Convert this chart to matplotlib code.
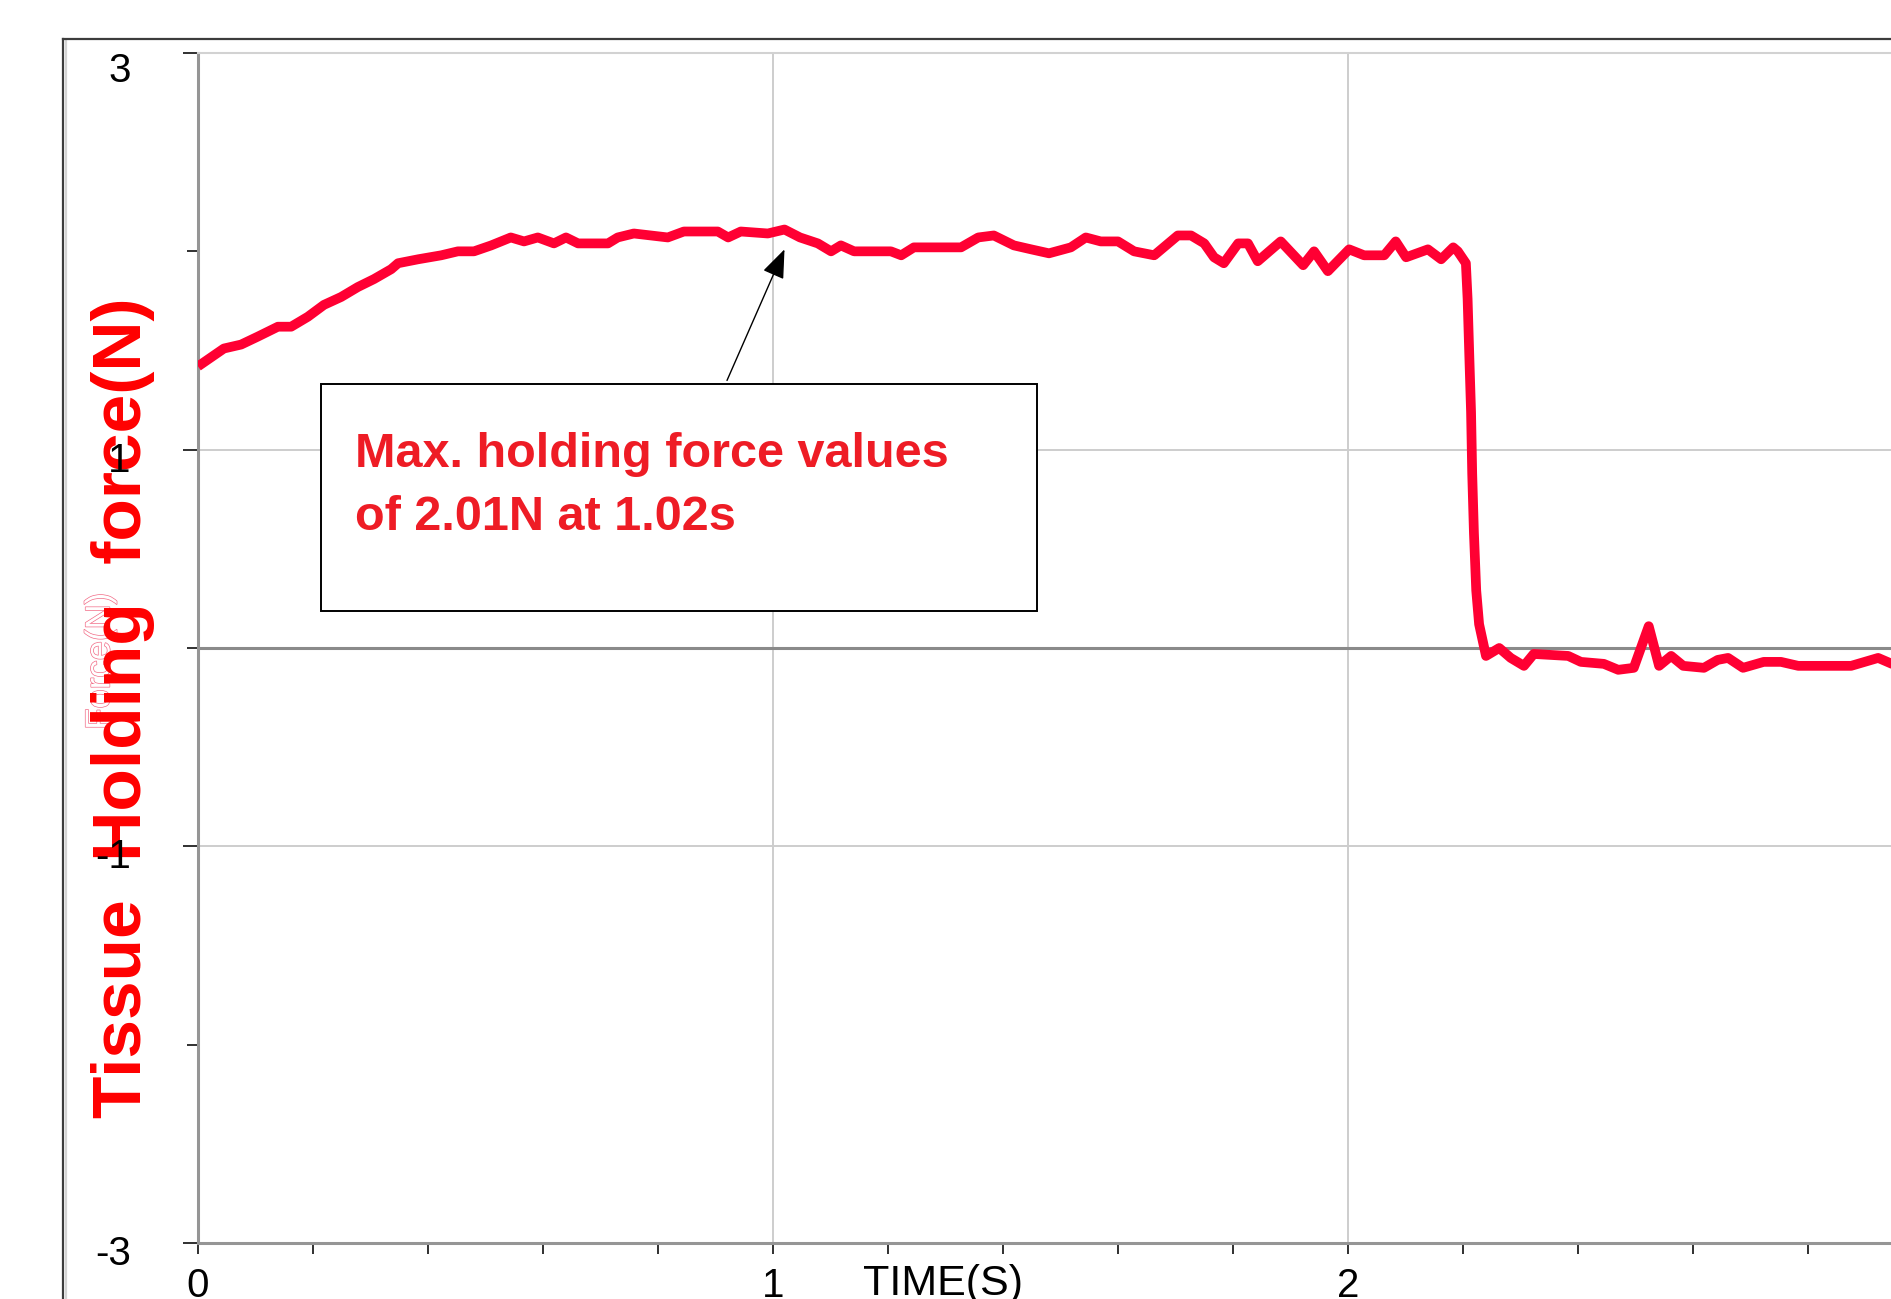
import matplotlib
matplotlib.use("Agg")
import matplotlib.pyplot as plt
from matplotlib import font_manager
from matplotlib.lines import Line2D
from matplotlib.patches import Rectangle, FancyArrowPatch
from matplotlib.transforms import ScaledTranslation
import matplotlib.patheffects as pe

# ---- data -----------------------------------------------------------------
time_s = [0.000, 0.045, 0.075, 0.104, 0.139, 0.162, 0.191, 0.219, 0.249, 0.278,
          0.306, 0.336, 0.348, 0.383, 0.423, 0.452, 0.480, 0.510, 0.544, 0.567,
          0.591, 0.619, 0.640, 0.661, 0.713, 0.730, 0.758, 0.817, 0.845, 0.904,
          0.922, 0.944, 0.991, 1.020, 1.047, 1.078, 1.101, 1.118, 1.141, 1.205,
          1.223, 1.245, 1.327, 1.357, 1.384, 1.419, 1.449, 1.480, 1.518, 1.544,
          1.570, 1.600, 1.628, 1.663, 1.704, 1.727, 1.750, 1.767, 1.784, 1.809,
          1.826, 1.843, 1.883, 1.922, 1.941, 1.965, 2.002, 2.028, 2.063, 2.083,
          2.101, 2.139, 2.162, 2.183, 2.191, 2.205, 2.208, 2.211, 2.214, 2.216,
          2.219, 2.223, 2.228, 2.240, 2.263, 2.283, 2.306, 2.323, 2.383, 2.405,
          2.445, 2.470, 2.497, 2.523, 2.541, 2.562, 2.583, 2.619, 2.643, 2.661,
          2.687, 2.723, 2.753, 2.783, 2.875, 2.922, 2.946, 3.000]
force_n = [1.42, 1.51, 1.53, 1.57, 1.62, 1.62, 1.67, 1.73, 1.77, 1.82,
           1.86, 1.91, 1.94, 1.96, 1.98, 2.00, 2.00, 2.03, 2.07, 2.05,
           2.07, 2.04, 2.07, 2.04, 2.04, 2.07, 2.09, 2.07, 2.10, 2.10,
           2.07, 2.10, 2.09, 2.11, 2.07, 2.04, 2.00, 2.03, 2.00, 2.00,
           1.98, 2.02, 2.02, 2.07, 2.08, 2.03, 2.01, 1.99, 2.02, 2.07,
           2.05, 2.05, 2.00, 1.98, 2.08, 2.08, 2.04, 1.97, 1.94, 2.04,
           2.04, 1.95, 2.05, 1.93, 2.00, 1.90, 2.01, 1.98, 1.98, 2.05,
           1.97, 2.01, 1.96, 2.02, 2.00, 1.94, 1.76, 1.47, 1.19, 0.88,
           0.58, 0.29, 0.12, -0.04, 0.00, -0.05, -0.09, -0.03, -0.04, -0.07,
           -0.08, -0.11, -0.10, 0.11, -0.09, -0.04, -0.09, -0.10, -0.06, -0.05,
           -0.10, -0.07, -0.07, -0.09, -0.09, -0.05, -0.08, -0.08]

x_major = [0, 1, 2, 3]
x_major_labels = ["0", "1", "2", "3"]
x_minor = [0.2, 0.4, 0.6, 0.8, 1.2, 1.4, 1.6, 1.8, 2.2, 2.4, 2.6, 2.8]
y_major = [-3, -1, 1, 3]
y_major_labels = ["-3", "-1", "1", "3"]
y_minor = [-2, 0, 2]

max_time = 1.02
max_force = 2.01
note = f"Max. holding force values\nof {max_force:.2f}N at {max_time:.2f}s"


def font_available(name):
    try:
        font_manager.findfont(font_manager.FontProperties(family=name),
                              fallback_to_default=False)
        return True
    except ValueError:
        return False


NARROW = font_available("Liberation Sans Narrow")
label_family = "Liberation Sans Narrow" if NARROW else "Liberation Sans"
label_size = 62 if NARROW else 50
plain = "Liberation Sans"

W, H = 1891, 1299
fig = plt.figure(figsize=(W / 100, H / 100), dpi=100)
fig.patch.set_facecolor("white")

# plot area: x 0..3 s (575 px per second), y -3..3 N
ax = fig.add_axes([198 / W, 56 / H, 1725 / W, 1190 / H])
ax.set_xlim(0, 3)
ax.set_ylim(-3, 3)
ax.set_facecolor("white")

for side in ("right",):
    ax.spines[side].set_visible(False)
ax.spines["top"].set_color("#d2d2d2")
ax.spines["top"].set_linewidth(1.5)
for side in ("left", "bottom"):
    ax.spines[side].set_color("#959595")
    ax.spines[side].set_linewidth(2.2)

ax.set_xticks(x_major)
ax.set_xticklabels(x_major_labels)
ax.set_xticks(x_minor, minor=True)
ax.set_yticks(y_major)
ax.set_yticklabels(y_major_labels)
ax.set_yticks(y_minor, minor=True)

ax.tick_params(axis="both", which="both", direction="out", color="#303030",
               width=1.4, labelcolor="black")
ax.tick_params(axis="x", which="both", length=8, pad=9)
ax.tick_params(axis="y", which="major", length=10.5, pad=38)
ax.tick_params(axis="y", which="minor", length=8)
for lab in ax.get_xticklabels() + ax.get_yticklabels():
    lab.set_fontfamily(plain)
    lab.set_fontsize(29)

ax.grid(True, which="major", color="#cdcdcd", linewidth=1.4)
ax.axhline(0, color="#8a8a8a", linewidth=2.2, zorder=1.6)

# value labels sit a little below their ticks
for lab, val in zip(ax.get_yticklabels(), y_major):
    shift = -13.5 if val == 3 else -7
    lab.set_transform(lab.get_transform()
                      + ScaledTranslation(0, shift / 100, fig.dpi_scale_trans))

ax.set_xlabel("TIME(S)", fontfamily=plain, fontsize=31, color="black")
ax.xaxis.set_label_coords(1.296 / 3, -21 / 1190)

# force trace
ax.plot(time_s, force_n, color="#ff0033", linewidth=7, solid_joinstyle="round",
        solid_capstyle="butt", zorder=3)

# annotation box with arrow to the maximum
ax.add_patch(Rectangle((0.214, 0.185), 1.459 - 0.214, 1.329 - 0.185,
                       facecolor="white", edgecolor="black", linewidth=1.4,
                       zorder=4))
ax.text(0.273, 1.091, note, fontfamily=plain, fontweight="bold", fontsize=35,
        color="#ee1c25", ha="left", va="top", linespacing=1.53, zorder=5)
ax.add_patch(FancyArrowPatch((0.92, 1.349), (max_time, max_force),
                             arrowstyle="-|>,head_length=18,head_width=7",
                             mutation_scale=1, color="black", linewidth=1.0,
                             shrinkA=0, shrinkB=0, zorder=5))

# vertical axis title, with the faint original caption underneath
ax.text(100 / W, 1 - 661 / H, "Force(N)", transform=fig.transFigure,
        rotation=90, rotation_mode="anchor", ha="center", va="center",
        fontfamily=plain, fontsize=25, color="white", clip_on=False, zorder=0.8,
        path_effects=[pe.Stroke(linewidth=1.0, foreground="#f26b86"),
                      pe.Normal()])
ax.text(141 / W, 1 - 708 / H, "Tissue  Holding  force(N)",
        transform=fig.transFigure, rotation=90, rotation_mode="anchor",
        ha="center", va="baseline", fontfamily=label_family,
        fontweight="bold", fontsize=label_size, color="#ff0000",
        clip_on=False, zorder=1)

# window frame around the plot
fig.add_artist(Line2D([62.5 / W, 62.5 / W], [0, 1 - 38.5 / H],
                      transform=fig.transFigure, color="#3c3c3c", linewidth=1.6))
fig.add_artist(Line2D([65.5 / W, 65.5 / W], [0, 1 - 40 / H],
                      transform=fig.transFigure, color="#d4d4d4", linewidth=1.6))
fig.add_artist(Line2D([62.5 / W, 1], [1 - 38.5 / H, 1 - 38.5 / H],
                      transform=fig.transFigure, color="#3c3c3c", linewidth=1.6))

fig.savefig("out.png", dpi=100)
